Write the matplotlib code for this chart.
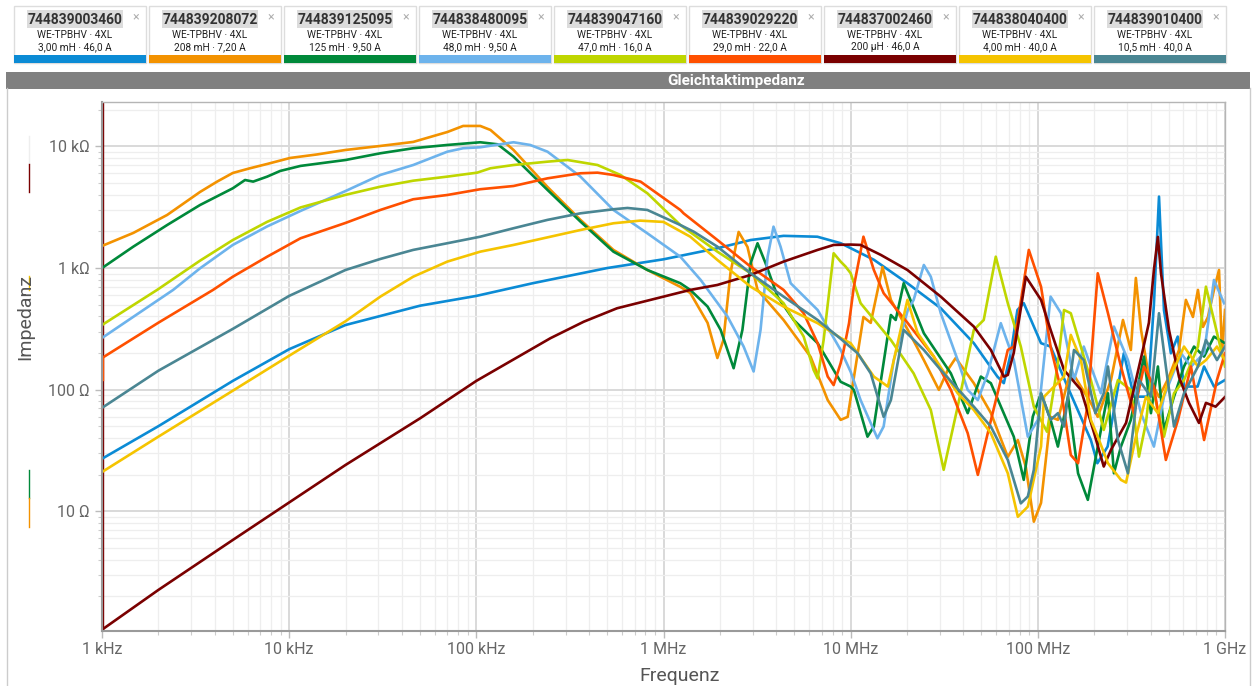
import matplotlib
matplotlib.use("Agg")
import matplotlib.pyplot as plt
from matplotlib.patches import Rectangle
from matplotlib.ticker import FixedLocator, LogLocator, NullFormatter

plt.rcParams['font.family'] = ['Roboto', 'DejaVu Sans']

W, H = 1253, 686

part_numbers = ["744839003460", "744839208072", "744839125095", "744838480095", "744839047160",
                "744839029220", "744837002460", "744838040400", "744839010400"]
series_name = "WE-TPBHV · 4XL"
ratings = ["3,00 mH · 46,0 A", "208 mH · 7,20 A", "125 mH · 9,50 A", "48,0 mH · 9,50 A",
           "47,0 mH · 16,0 A", "29,0 mH · 22,0 A", "200 µH · 46,0 A", "4,00 mH · 40,0 A",
           "10,5 mH · 40,0 A"]
colors = ["#0b8bd5", "#f39200", "#00893a", "#6db3ec", "#bfd600",
          "#ff5000", "#7a0000", "#f5c400", "#4a8693"]

x_tick_values = [1e3, 1e4, 1e5, 1e6, 1e7, 1e8, 1e9]
x_tick_labels = ["1 kHz", "10 kHz", "100 kHz", "1 MHz", "10 MHz", "100 MHz", "1 GHz"]
y_tick_values = [10, 100, 1000, 10000]
y_tick_labels = ["10 Ω", "100 Ω", "1 kΩ", "10 kΩ"]

# frequency [Hz] / impedance [Ohm]
f_003460 = [1e3, 2e3, 5e3, 1e4, 2e4, 5e4, 1e5, 2e5, 5e5, 1e6, 1.94e6, 2.92e6, 4.38e6, 6.64e6, 8.85e6,
            1.33e7, 2.01e7, 3.03e7, 4.55e7, 6.08e7, 6.58e7, 7.17e7, 7.78e7, 8.41e7, 1.04e8, 1.17e8,
            1.44e8, 1.92e8, 2.08e8, 2.36e8, 2.88e8, 3.26e8, 3.86e8, 4.17e8, 4.44e8, 4.72e8, 5.14e8,
            5.59e8, 6.04e8, 7.14e8, 7.73e8, 8.73e8, 1e9]
z_003460 = [27, 50, 118, 215, 340, 490, 590, 750, 1000, 1180, 1455, 1700, 1840, 1810, 1600,
            1170, 750, 467, 241, 128, 113, 199, 452, 514, 241, 226,
            106, 38.5, 24.8, 34, 199, 87.5, 87.5, 500, 3870, 450, 199,
            273, 106, 106, 155, 106, 120]

f_208072 = [1.0e3, 1.47e3, 2.23e3, 3.34e3, 4.12e3, 5.0e3, 6.18e3, 7.63e3, 1.01e4, 1.41e4, 2.0e4,
            3.07e4, 4.6e4, 7.0e4, 8.5e4,
            1.05e5, 1.19e5, 1.58e5, 2.4e5, 3.6e5, 5.4e5, 8.2e5, 1.23e6, 1.39e6, 1.72e6, 1.94e6, 2.09e6,
            2.28e6, 2.52e6, 2.81e6, 3.18e6, 4.38e6, 6.11e6, 7.54e6, 8.84e6, 9.64e6, 1.17e7, 1.28e7,
            1.48e7, 1.64e7, 2.02e7, 2.46e7, 2.96e7, 3.30e7, 3.64e7, 4.55e7, 5.61e7, 6.91e7, 7.82e7,
            8.63e7, 9.52e7, 1.04e8, 1.17e8, 1.28e8, 1.50e8, 1.92e8, 2.09e8, 2.46e8, 2.85e8, 3.14e8,
            3.34e8, 3.56e8, 3.92e8, 4.44e8, 5.02e8, 5.68e8, 6.18e8, 6.74e8, 7.17e8, 7.63e8, 8.11e8,
            8.73e8, 9.29e8, 9.64e8, 1.0e9]
z_208072 = [1520, 1945, 2735, 4225, 5140, 6055, 6620, 7180, 8040, 8600, 9360,
            10100, 10900, 13150, 14750,
            14750, 13670, 9360, 4645, 2490, 1410, 964, 700, 624, 354, 182, 256,
            912, 1982, 1492, 661, 374, 186, 82, 56.4, 59.7, 396, 354,
            1020, 547, 310, 175, 99.5, 145, 182, 113, 64.3, 28, 38.5,
            23.1, 8.2, 11.7, 59.7, 56.4, 145, 77.8, 59.7, 120, 374, 212,
            829, 310, 127, 87, 127, 212, 547, 396, 661, 328, 396,
            661, 964, 200, 452]

f_125095 = [1e3, 1.47e3, 2.23e3, 3.34e3, 5.0e3, 5.81e3, 6.42e3, 7.63e3, 8.95e3, 1.15e4, 2e4, 3.07e4,
            4.6e4, 7e4, 1.05e5, 1.30e5, 1.58e5, 2.4e5, 3.6e5, 5.4e5, 8.2e5, 1.23e6, 1.39e6, 1.72e6,
            2.02e6, 2.37e6, 2.64e6, 2.92e6, 3.18e6, 3.51e6, 4.07e6, 4.96e6, 6.66e6, 8.84e6, 1e7,
            1.04e7, 1.23e7, 1.33e7, 1.64e7, 1.74e7, 1.92e7, 2.46e7, 3.43e7, 4.22e7, 4.96e7, 5.61e7,
            7.44e7, 8.41e7, 9.40e7, 1.04e8, 1.17e8, 1.28e8, 1.45e8, 1.64e8, 1.85e8, 2.09e8, 2.37e8,
            2.55e8, 2.78e8, 3.14e8, 3.69e8, 4.02e8, 4.38e8, 4.72e8, 5.34e8, 6.04e8, 6.83e8, 7.73e8,
            8.73e8, 1e9]
z_125095 = [1000, 1500, 2260, 3300, 4530, 5300, 5140, 5650, 6290, 6920, 7740, 8790,
            9670, 10290, 10830, 10420, 8250, 4390, 2410, 1364, 964, 750, 661, 482,
            310, 150, 310, 1096, 1600, 1096, 582, 374, 241, 116, 106,
            99.5, 41, 49.7, 411, 374, 750, 291, 136, 64, 128, 113,
            41, 18.1, 60, 93.3, 56.4, 34, 87.5, 20.5, 12.4, 34, 93.3,
            20.5, 34, 56.4, 187, 64, 155, 46.6, 87.5, 155, 226, 187,
            273, 241]

f_480095 = [1e3, 2.40e3, 3.34e3, 5e3, 7.63e3, 1.15e4, 2e4, 3.07e4, 4.6e4, 7e4, 8.5e4, 1.05e5,
            1.58e5, 1.94e5, 2.4e5, 3.6e5, 5.4e5, 8.2e5, 1.23e6, 1.58e6, 2.20e6, 2.68e6, 3.03e6,
            3.30e6, 3.60e6, 3.87e6, 4.22e6, 4.78e6, 6.66e6, 8.84e6, 1e7, 1.13e7, 1.39e7, 1.50e7,
            1.70e7, 2.02e7, 2.17e7, 2.46e7, 2.68e7, 3.03e7, 3.73e7, 4.22e7, 4.78e7, 5.40e7, 6.34e7,
            7.44e7, 8.84e7, 1e8, 1.17e8, 1.33e8, 1.56e8, 1.76e8, 1.92e8, 2.17e8, 2.55e8, 3.03e8,
            3.56e8, 4.17e8, 4.72e8, 5.82e8, 6.58e8, 7.73e8, 8.73e8, 9.88e8]
z_480095 = [266, 661, 995, 1550, 2200, 2950, 4300, 5830, 7040, 9060, 9670, 9850,
            10830, 10290, 9060, 5650, 3005, 1930, 1240, 798, 398, 226, 141,
            310, 1240, 2190, 1500, 750, 452, 212, 140, 82, 39.8, 49.7,
            175, 452, 547, 1060, 849, 425, 175, 99.5, 82, 136, 352,
            175, 41, 56.4, 582, 425, 120, 226, 155, 93.3, 330, 175,
            64, 34, 87.5, 199, 155, 199, 798, 514]

f_047160 = [1e3, 1.97e3, 3.34e3, 5e3, 7.63e3, 1.15e4, 2e4, 3.07e4, 4.6e4, 7e4, 1.01e5, 1.19e5,
            1.58e5, 2.4e5, 3.07e5, 4.44e5, 5.89e5, 8.2e5, 1.23e6, 1.94e6, 2.92e6, 4.38e6, 5.61e6,
            6.34e6, 6.66e6, 7.17e6, 8.11e6, 8.84e6, 9.40e6, 1e7, 1.13e7, 1.64e7, 2.17e7, 2.68e7,
            3.14e7, 3.73e7, 4.55e7, 5.14e7, 5.96e7, 6.91e7, 8.11e7, 9.52e7, 1.12e8, 1.28e8, 1.38e8,
            1.50e8, 1.76e8, 1.92e8, 2.25e8, 2.68e8, 3.14e8, 3.47e8, 3.78e8, 4.02e8, 4.72e8, 5.34e8,
            6.04e8, 7.17e8, 7.91e8, 8.73e8, 1e9]
z_047160 = [340, 661, 1150, 1700, 2400, 3150, 4000, 4670, 5230, 5650, 6090, 6620,
            7040, 7500, 7740, 7040, 5830, 4120, 2260, 1364, 906, 514, 273,
            145, 124, 256, 1324, 1130, 1027, 906, 514, 256, 136, 68,
            21.9, 72.4, 310, 374, 1240, 514, 226, 72.4, 45, 165, 452,
            425, 187, 120, 46.6, 120, 99.5, 28.1, 53.2, 120, 41, 93.3,
            120, 226, 703, 374, 155]

f_029220 = [1e3, 2e3, 3.92e3, 5e3, 7.63e3, 1.15e4, 2e4, 3.07e4, 4.6e4, 7e4, 1.05e5, 1.58e5,
            2.4e5, 3.6e5, 4.44e5, 5.4e5, 7.54e5, 1.23e6, 1.28e6, 1.94e6, 2.92e6, 4.38e6, 5.61e6,
            6.66e6, 7.54e6, 8.11e6, 8.84e6, 9.18e6, 9.8e6, 1.04e7, 1.17e7, 1.33e7, 1.50e7, 2.02e7,
            2.78e7, 3.43e7, 4.22e7, 4.78e7, 5.40e7, 6.34e7, 6.91e7, 7.44e7, 8.95e7, 1.04e8, 1.17e8,
            1.33e8, 1.50e8, 1.64e8, 1.85e8, 2.09e8, 2.37e8, 2.78e8, 3.26e8, 3.69e8, 4.17e8, 4.83e8,
            5.61e8, 6.58e8, 7.73e8, 9.06e8, 1e9]
z_029220 = [182, 355, 661, 849, 1240, 1758, 2350, 3005, 3680, 3990, 4450, 4730,
            5470, 6020, 6090, 5830, 5140, 3005, 2820, 1702, 1027, 661, 425,
            241, 128, 109, 165, 212, 352, 703, 1811, 964, 621, 352,
            187, 99.5, 43.8, 19.9, 43.8, 120, 212, 226, 1410, 703, 226,
            99.5, 29, 24.8, 77.3, 906, 425, 155, 64, 155, 106, 26.4,
            56.4, 155, 38.5, 120, 199]

f_002460 = [1e3, 2e3, 5e3, 1e4, 2e4, 5e4, 1e5, 2.49e5, 3.75e5, 5.65e5, 1e6, 1.39e6, 1.94e6, 2.92e6,
            4.38e6, 6.66e6, 8.11e6, 1e7, 1.13e7, 1.45e7, 2.01e7, 3.03e7, 4.55e7, 5.61e7, 6.58e7,
            6.91e7, 7.44e7, 8.63e7, 1.04e8, 1.17e8, 1.38e8, 1.70e8, 2.0e8, 2.25e8, 2.46e8, 2.96e8,
            3.64e8, 3.92e8, 4.17e8, 4.38e8, 4.55e8, 5.02e8, 5.68e8, 6.42e8, 7.26e8, 7.91e8, 8.91e8, 1e9]
z_002460 = [1.06, 2.25, 5.8, 11.8, 24, 58, 118, 265, 362, 467, 582, 661, 726, 877,
            1130, 1410, 1549, 1560, 1549, 1282, 964, 582, 330, 212, 128,
            132, 201, 849, 547, 310, 145, 99.5, 43.8, 23.3, 32, 53.2,
            212, 354, 964, 1803, 906, 310, 127, 77.8, 53.2, 77.8, 72.4, 87]
# vertical jump at the first sample (dark red) and start of the 29 mH trace
f_002460_edge = [1.01e3, 1.01e3]
z_002460_edge = [1.06, 23000]
f_029220_edge = [1.01e3, 1.01e3]
z_029220_edge = [120, 182]

f_040400 = [1e3, 2e3, 5e3, 1e4, 2e4, 3.07e4, 4.6e4, 7e4, 1.05e5, 1.58e5, 2.49e5, 3.6e5, 5.4e5,
            7.5e5, 1e6, 1.39e6, 1.94e6, 2.92e6, 4.38e6, 6.66e6, 8.84e6, 1e7, 1.33e7, 1.58e7, 2.01e7,
            2.28e7, 2.78e7, 3.73e7, 4.55e7, 5.61e7, 6.91e7, 7.82e7, 8.84e7, 1.04e8, 1.08e8, 1.38e8,
            1.50e8, 1.70e8, 1.92e8, 2.09e8, 2.37e8, 2.78e8, 2.96e8, 3.34e8, 3.78e8, 4.38e8, 5.02e8,
            6.04e8, 7.17e8, 7.91e8, 9.06e8, 1e9]
z_040400 = [21, 41, 98, 190, 365, 582, 849, 1130, 1364, 1549, 1811, 2056, 2335,
            2455, 2395, 1811, 1166, 703, 482, 352, 266, 241, 128, 106, 547,
            292, 187, 93.3, 68, 43.8, 20.5, 9.0, 10.9, 34, 87.5, 128,
            282, 175, 56.4, 41, 24.8, 18.1, 17.2, 40.8, 87, 64, 120,
            226, 155, 175, 226, 175]

f_010400 = [1e3, 2e3, 5e3, 1e4, 2e4, 3.07e4, 4.6e4, 7e4, 1.05e5, 1.58e5, 2.4e5, 3.6e5, 5.4e5,
            6.42e5, 8.2e5, 1.23e6, 1.45e6, 1.94e6, 2.92e6, 4.38e6, 6.66e6, 8.84e6, 1.09e7, 1.28e7,
            1.50e7, 1.64e7, 1.92e7, 2.46e7, 3.03e7, 4.55e7, 5.61e7, 6.91e7, 8.11e7, 8.84e7, 9.52e7,
            1.04e8, 1.17e8, 1.28e8, 1.38e8, 1.56e8, 1.76e8, 2.03e8, 2.25e8, 2.37e8, 2.68e8, 3.03e8,
            3.47e8, 4.02e8, 4.44e8, 4.83e8, 5.34e8, 6.04e8, 7.17e8, 7.91e8, 9.06e8, 1e9]
z_010400 = [70.8, 143, 316, 590, 964, 1188, 1410, 1600, 1811, 2125, 2490, 2820, 3045,
            3120, 3005, 2260, 1992, 1500, 906, 582, 374, 262, 199, 136,
            59.7, 82, 310, 212, 145, 72.4, 49.7, 26.4, 11.6, 13.2, 21.9,
            93.3, 56.4, 64, 49.7, 212, 175, 64, 93.3, 155, 38.5, 20.5,
            120, 87.5, 425, 155, 49.7, 93.3, 155, 256, 175, 226]

curves = [(f_003460, z_003460), (f_208072, z_208072), (f_125095, z_125095),
          (f_480095, z_480095), (f_047160, z_047160), (f_029220, z_029220),
          (f_002460, z_002460), (f_040400, z_040400), (f_010400, z_010400)]

fig = plt.figure(figsize=(W / 100, H / 100), dpi=100)

# overlay in pixel coordinates for the header / frame
ov = fig.add_axes([0, 0, 1, 1], zorder=0)
ov.set_xlim(0, W)
ov.set_ylim(H, 0)
ov.axis('off')

for i in range(9):
    x0 = 14 + 135 * i
    ov.add_patch(Rectangle((x0, 6), 132, 57, fc='white', ec='#dddddd', lw=1))
    ov.add_patch(Rectangle((x0, 55), 132, 8, fc=colors[i], ec='none'))
    ov.add_patch(Rectangle((x0 + 13, 10), 96, 18, fc='#dcdcdc', ec='none'))
    ov.text(x0 + 61, 19.5, part_numbers[i], ha='center', va='center', fontsize=10,
            fontweight='bold', color='#333333')
    ov.text(x0 + 122, 17, "×", ha='center', va='center', fontsize=9, color='#b0b0b0')
    ov.text(x0 + 61, 35.5, series_name, ha='center', va='center', fontsize=7.3, color='#222222')
    ov.text(x0 + 61, 47, ratings[i], ha='center', va='center', fontsize=7.3, color='#222222')

ov.add_patch(Rectangle((6, 72), 1244, 16.5, fc='#808080', ec='none'))
ov.text(736, 80.5, "Gleichtaktimpedanz", ha='center', va='center', fontsize=11,
        fontweight='bold', color='white')
ov.plot([7, 7], [88, H], color='#cccccc', lw=1)
ov.plot([1250, 1250], [88, H], color='#cccccc', lw=1)

# small colour stubs left of the axis
ov.plot([29, 29], [136, 164], color='#eeeeee', lw=1)
ov.plot([29, 29], [164, 192], color=colors[6], lw=1)
ov.plot([29, 29], [276, 290], color=colors[7], lw=1)
ov.plot([29, 29], [470, 498], color=colors[2], lw=1)
ov.plot([29, 29], [498, 527], color=colors[1], lw=1)

ov.text(680, 676, "Frequenz", ha='center', va='center', fontsize=14, color='#555555')
ov.text(25, 317, "Impedanz", ha='center', va='center', fontsize=14, color='#555555', rotation=90)

ax = fig.add_axes([102 / W, 1 - 630.7 / H, 1123 / W, 529 / H], zorder=1)
ax.set_xscale('log')
ax.set_yscale('log')

ax.plot(f_002460_edge, z_002460_edge, color=colors[6], lw=1.0)
ax.plot(f_029220_edge, z_029220_edge, color=colors[5], lw=1.0)
for (fx, zy), c in zip(curves, colors):
    ax.plot(fx, zy, color=c, lw=1.9, solid_joinstyle='round')

ax.set_xlim(1e3, 1e9)
ax.set_ylim(1.04, 23350)

ax.xaxis.set_major_locator(FixedLocator(x_tick_values))
ax.set_xticklabels(x_tick_labels)
ax.xaxis.set_minor_locator(LogLocator(base=10, subs=range(2, 10), numticks=20))
ax.xaxis.set_minor_formatter(NullFormatter())
ax.yaxis.set_major_locator(FixedLocator(y_tick_values))
ax.set_yticklabels(y_tick_labels)
ax.yaxis.set_minor_locator(LogLocator(base=10, subs=range(1, 10), numticks=20))
ax.yaxis.set_minor_formatter(NullFormatter())

ax.grid(which='major', color='#d9d9d9', lw=1.4)
ax.grid(which='minor', color='#eeeeee', lw=0.9)
ax.set_axisbelow(True)

ax.tick_params(which='major', length=5, width=1, color='#bbbbbb', labelsize=11.5,
               labelcolor='#666666')
ax.tick_params(which='minor', length=3, width=0.8, color='#cccccc')
ax.tick_params(axis='x', which='major', pad=3)
ax.tick_params(axis='y', which='major', pad=4)

for side in ['top', 'right']:
    ax.spines[side].set_color('#b5b5b5')
    ax.spines[side].set_linewidth(1)
for side in ['left', 'bottom']:
    ax.spines[side].set_color('#9a9a9a')
    ax.spines[side].set_linewidth(1.5)

fig.savefig("out.png", dpi=100)
